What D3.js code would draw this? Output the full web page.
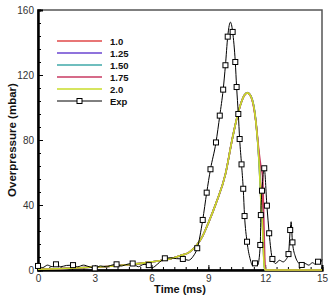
<!DOCTYPE html>
<html>
<head>
<meta charset="utf-8">
<script src="https://cdn.jsdelivr.net/npm/d3@7"></script>
<style>
  body { margin: 0; background: #fff; }
  text { font-family: "Liberation Sans", Arial, sans-serif; }
</style>
</head>
<body>
<svg id="chart" width="334" height="296"></svg>
<script>
// simulation curves (time in ms, overpressure in mbar)
let simT    = [0, 1, 2, 3, 4, 5, 6, 6.5, 7, 7.5, 8, 8.4, 8.7, 9.0, 9.4, 9.9, 10.25, 10.6, 10.9, 11.05, 11.25, 11.5, 11.68, 11.77, 11.86, 11.95, 12.0, 13, 14, 15];
let sim10   = [0.5, 0.8, 1.2, 1.8, 2.5, 3.5, 5, 5.8, 7, 8.8, 11, 15.5, 21, 29, 41, 59, 80, 98, 107.5, 109, 106.7, 92, 68, 52, 40, 8, 0, 0, 0, 0];
let sim125  = [0.5, 0.8, 1.2, 1.8, 2.5, 3.5, 5, 5.8, 7, 8.8, 11, 15.5, 21, 29, 41, 59, 80, 98, 107.5, 109, 106.7, 92, 66, 44, 27, 3, 0, 0, 0, 0];
let sim150  = [0.5, 0.8, 1.2, 1.8, 2.5, 3.5, 5, 5.8, 7, 8.8, 11, 15.5, 21, 29, 41, 59, 80, 98, 107.6, 109.2, 107, 92.5, 66, 45, 28, 3, 0, 0, 0, 0];
let sim175  = [0.5, 0.8, 1.2, 1.8, 2.5, 3.5, 5, 5.8, 7, 8.8, 11, 15.5, 21, 29, 41, 59, 80, 98, 107.5, 109, 106.7, 92, 72, 64, 58, 20, 0, 0, 0, 0];
let sim20   = [0.5, 0.8, 1.2, 1.8, 2.5, 3.5, 5, 5.8, 7, 8.8, 11, 15.5, 21, 29, 41, 59, 80, 98, 107.5, 109, 106.7, 92, 66, 43, 26, 2, 0, 0, 0, 0];

let seriesNames  = ["1.0", "1.25", "1.50", "1.75", "2.0"];
let seriesValues = [sim10, sim125, sim150, sim175, sim20];
let seriesColors = ["#e04848", "#6a44d0", "#3fa8a8", "#c83a62", "#c9dc2a"];

// experiment
let expT = [0, 0.25, 0.5, 0.75, 0.95, 1.2, 1.5, 1.85, 2.1, 2.4, 2.7, 3.0, 3.3, 3.6, 3.9, 4.15, 4.4, 4.7, 5.0, 5.3, 5.6, 5.85, 6.05, 6.3, 6.7, 7.0, 7.3, 7.65, 7.95, 8.2,
            8.41, 8.7, 8.91, 9.11, 9.4, 9.6, 9.78, 9.9, 10.02, 10.1, 10.16, 10.22, 10.28, 10.42, 10.49, 10.58, 10.65, 10.75, 10.84, 10.91, 11.04,
            11.2, 11.35, 11.46, 11.6, 11.74, 11.77, 11.83, 11.95, 12.09, 12.21, 12.38, 12.55, 12.75, 12.95, 13.1,
            13.23, 13.32, 13.37, 13.44, 13.6, 13.75, 13.93, 14.1, 14.3, 14.5, 14.65, 14.79, 14.9, 15];
let expP = [2.5, 1.5, 3, 2, 3.5, 2, 2.8, 3, 2, 3, 2, 1, 2.5, 2, 3, 3.5, 2.5, 3.5, 4, 2, 3.5, 3, 1.5, 3.5, 7.2, 7.5, 7, 6.8, 6, 8.5,
            13.4, 30.8, 47.6, 62, 78.5, 95, 111, 126, 143.6, 150.5, 152.5, 151, 146.5, 128, 112.6, 96, 80.6, 65, 50, 33.2, 17.4,
            7, 2.5, 4.1, 3, 15.4, 33.8, 48.8, 62.6, 39.6, 22.6, 6.8, 4, 6, 5, 6.5,
            9.8, 24.6, 29.7, 17, 8, 4.5, 3.1, 4, 3, 4.5, 3.5, 5.1, 4.5, 6.5];
let expMark = [1, 0, 0, 0, 1, 0, 0, 1, 0, 0, 0, 1, 0, 0, 0, 1, 0, 0, 1, 0, 0, 1, 0, 0, 1, 0, 0, 1, 0, 0,
               1, 1, 1, 1, 1, 1, 1, 1, 1, 0, 0, 0, 1, 1, 1, 1, 1, 1, 1, 1, 1,
               0, 0, 1, 0, 1, 1, 1, 1, 1, 1, 1, 0, 0, 0, 0,
               1, 1, 0, 1, 0, 0, 1, 0, 0, 0, 0, 1, 0, 0];

let xTicks = [0, 3, 6, 9, 12, 15];
let yTicks = [0, 40, 80, 120, 160];

let svg = d3.select("#chart");

let canvas = {
  "width": 334,
  "height": 296,
  "marginLeft": 38,
  "marginTop": 10,
  "marginRight": 12,
  "marginBottom": 26
};

let xScale = d3.scaleLinear()
  .domain([0, 15])
  .range([canvas.marginLeft, canvas.width - canvas.marginRight]);

let yScale = d3.scaleLinear()
  .domain([0, 160])
  .range([canvas.height - canvas.marginBottom, canvas.marginTop]);

// frame
svg.append("rect")
  .attr("x", xScale(0))
  .attr("y", yScale(160))
  .attr("width", xScale(15) - xScale(0))
  .attr("height", yScale(0) - yScale(160))
  .attr("fill", "none")
  .attr("stroke", "#555")
  .attr("stroke-width", 1.5);

// minor ticks (inside)
let xMinor = d3.range(0, 15.001, 0.6);
let yMinor = d3.range(0, 160.001, 8);

let gx = svg.append("g")
  .attr("transform", `translate(0, ${yScale(0)})`)
  .call(d3.axisBottom(xScale).tickValues(xMinor).tickSize(-3).tickFormat(""));
let gx2 = svg.append("g")
  .attr("transform", `translate(0, ${yScale(0)})`)
  .call(d3.axisBottom(xScale).tickValues(xTicks).tickSize(-5).tickPadding(7));

let gy = svg.append("g")
  .attr("transform", `translate(${xScale(0)}, 0)`)
  .call(d3.axisLeft(yScale).tickValues(yMinor).tickSize(-3).tickFormat(""));
let gy2 = svg.append("g")
  .attr("transform", `translate(${xScale(0)}, 0)`)
  .call(d3.axisLeft(yScale).tickValues(yTicks).tickSize(-5).tickPadding(4));

for (let g of [gx, gx2, gy, gy2]) {
  g.select(".domain").attr("stroke", "#000").attr("stroke-width", 2);
  g.selectAll(".tick line").attr("stroke", "#000").attr("stroke-width", 1);
  g.selectAll(".tick text")
    .attr("fill", "#333")
    .attr("font-size", "10px")
    .attr("font-family", "'Liberation Sans', Arial, sans-serif");
}
gx2.selectAll(".tick text").attr("dy", "0.5em");

// simulation lines
let line = d3.line()
  .x(d => xScale(d[0]))
  .y(d => yScale(d[1]))
  .curve(d3.curveMonotoneX);

seriesValues.forEach((vals, i) => {
  let pts = simT.map((t, j) => [t, vals[j]]);
  svg.append("path")
    .datum(pts)
    .attr("fill", "none")
    .attr("stroke", seriesColors[i])
    .attr("stroke-width", 1.6)
    .attr("d", line);
});

// experiment line + markers
let expData = expT.map((t, j) => [t, expP[j], expMark[j]]);

svg.append("path")
  .datum(expData)
  .attr("fill", "none")
  .attr("stroke", "#000")
  .attr("stroke-width", 1)
  .attr("d", line);

svg.selectAll(".expmark")
  .data(expData.filter(d => d[2] === 1))
  .join("rect")
  .attr("class", "expmark")
  .attr("x", d => xScale(d[0]) - 2.5)
  .attr("y", d => yScale(d[1]) - 2.5)
  .attr("width", 5)
  .attr("height", 5)
  .attr("fill", "#fff")
  .attr("stroke", "#000")
  .attr("stroke-width", 1);

// legend
let legend = svg.append("g");
let legendNames = seriesNames.concat(["Exp"]);
let legendColors = seriesColors.concat(["#000"]);

legendNames.forEach((name, i) => {
  let y = 41 + i * 12;
  legend.append("line")
    .attr("x1", 57).attr("x2", 102)
    .attr("y1", y).attr("y2", y)
    .attr("stroke", legendColors[i])
    .attr("stroke-width", name === "Exp" ? 1 : 1.6);
  if (name === "Exp") {
    legend.append("rect")
      .attr("x", 77).attr("y", y - 2.5)
      .attr("width", 5).attr("height", 5)
      .attr("fill", "#fff").attr("stroke", "#000");
  }
  legend.append("text")
    .attr("x", 110)
    .attr("y", y + 3.5)
    .attr("font-size", "9.5px")
    .attr("font-weight", "bold")
    .attr("fill", "#111")
    .text(name);
});

// axis titles
svg.append("text")
  .attr("x", (xScale(0) + xScale(15)) / 2)
  .attr("y", 293)
  .attr("text-anchor", "middle")
  .attr("font-size", "11px")
  .attr("font-weight", "bold")
  .attr("fill", "#111")
  .text("Time (ms)");

svg.append("text")
  .attr("transform", `translate(16, ${(yScale(0) + yScale(160)) / 2}) rotate(-90)`)
  .attr("text-anchor", "middle")
  .attr("font-size", "11.5px")
  .attr("font-weight", "bold")
  .attr("fill", "#111")
  .text("Overpressure (mbar)");
</script>
</body>
</html>
